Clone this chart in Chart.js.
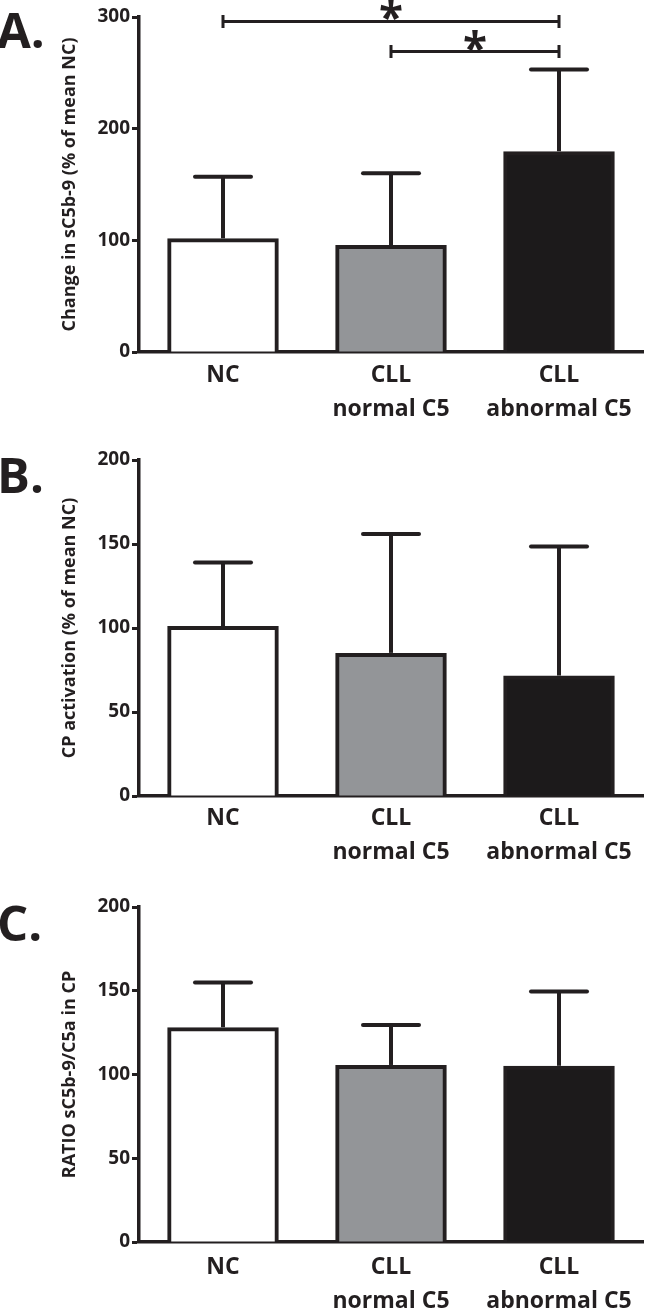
<!DOCTYPE html>
<html><head><meta charset="utf-8">
<script src="https://cdn.jsdelivr.net/npm/chart.js@4.4.1/dist/chart.umd.min.js"></script>
<style>
html,body{margin:0;padding:0;background:#fff;}
body{width:665px;height:1310px;position:relative;overflow:hidden;}
canvas{position:absolute;left:0;display:block;}
</style></head><body>
<canvas id="cA" width="665" height="440" style="top:0px"></canvas>
<canvas id="cB" width="665" height="440" style="top:440px"></canvas>
<canvas id="cC" width="665" height="430" style="top:880px"></canvas>
<script>
// ---- data ----
const categories = [['NC'], ['CLL', 'normal C5'], ['CLL', 'abnormal C5']];
const sc5b9Mean = [100, 94, 178];
const sc5b9SD = [57, 66, 75];
const cpMean = [100, 84, 70.5];
const cpSD = [39, 72, 78];
const ratioMean = [127, 104.5, 104];
const ratioSD = [28, 25, 45.5];
const sc5b9Ticks = [0, 100, 200, 300];
const percentTicks = [0, 50, 100, 150, 200];
// significance: [from category index, to category index, bracket height in axis units]
const sc5b9Sig = [[0, 2, 296], [1, 2, 269]];

const INK = '#231f20';
const FONT = 'Open Sans';
const barFills = ['#ffffff', '#939598', '#1c1a1b'];

const errorBarPlugin = {
  id: 'errbars',
  afterDatasetsDraw(chart, args, opts) {
    const ctx = chart.ctx, ys = chart.scales.y, meta = chart.getDatasetMeta(0);
    ctx.save();
    ctx.strokeStyle = INK; ctx.lineWidth = 4; ctx.lineCap = 'butt';
    meta.data.forEach((bar, i) => {
      const m = chart.data.datasets[0].data[i];
      const top = ys.getPixelForValue(m + opts.sd[i]);
      ctx.beginPath();
      ctx.moveTo(bar.x, bar.y - 2); ctx.lineTo(bar.x, top);
      ctx.stroke();
      ctx.lineCap = 'round';
      ctx.beginPath();
      ctx.moveTo(bar.x - 28, top); ctx.lineTo(bar.x + 28, top);
      ctx.stroke();
      ctx.lineCap = 'butt';
    });
    ctx.restore();
  }
};
const sigPlugin = {
  id: 'sig',
  afterDraw(chart, args, opts) {
    if (!opts.pairs) return;
    const ctx = chart.ctx, xs = chart.scales.x, ys = chart.scales.y;
    ctx.save();
    ctx.strokeStyle = INK; ctx.fillStyle = INK; ctx.lineWidth = 3;
    opts.pairs.forEach(p => {
      const x1 = xs.getPixelForValue(p[0]), x2 = xs.getPixelForValue(p[1]), y = ys.getPixelForValue(p[2]);
      ctx.beginPath();
      ctx.moveTo(x1, y); ctx.lineTo(x2, y);
      ctx.moveTo(x1, y - 6.5); ctx.lineTo(x1, y + 6.5);
      ctx.moveTo(x2, y - 6.5); ctx.lineTo(x2, y + 6.5);
      ctx.stroke();
      ctx.font = 'bold 44px "' + FONT + '"';
      ctx.textAlign = 'center'; ctx.textBaseline = 'alphabetic';
      ctx.fillText('*', (x1 + x2) / 2, y + 12);
    });
    ctx.restore();
  }
};
const panelLabelPlugin = {
  id: 'plabel',
  afterDraw(chart, args, opts) {
    const ctx = chart.ctx;
    ctx.save();
    ctx.fillStyle = INK; ctx.font = 'bold 49px "' + FONT + '"';
    ctx.textAlign = 'left'; ctx.textBaseline = 'alphabetic';
    ctx.fillText(opts.text, -3, opts.y);
    ctx.restore();
  }
};

function makeChart(id, cfg) {
  return new Chart(document.getElementById(id), {
    type: 'bar',
    data: {
      labels: categories,
      datasets: [{
        data: cfg.mean,
        backgroundColor: barFills,
        borderColor: INK,
        borderWidth: 4,
        inflateAmount: 2,
        barPercentage: 0.64,
        categoryPercentage: 1
      }]
    },
    options: {
      responsive: false,
      animation: false,
      devicePixelRatio: 1,
      layout: { padding: { left: 0, right: 22, top: cfg.top, bottom: 0 } },
      plugins: {
        legend: { display: false },
        tooltip: { enabled: false },
        errbars: { sd: cfg.sd },
        sig: { pairs: cfg.sig },
        plabel: { text: cfg.label, y: cfg.labelY }
      },
      scales: {
        x: {
          z: 1,
          offset: true,
          grid: { display: false, drawTicks: false },
          border: { display: true, width: 3.5, color: INK },
          ticks: {
            color: INK, padding: cfg.xpad, maxRotation: 0, autoSkip: false,
            font: { family: FONT, size: 23, weight: 'bold', lineHeight: '34px' }
          },
          afterFit(s) { s.height = cfg.bottomH; }
        },
        y: {
          z: 1,
          min: 0, max: cfg.ticks[cfg.ticks.length - 1],
          afterBuildTicks(s) { s.ticks = cfg.ticks.map(v => ({ value: v })); },
          grid: { display: true, drawOnChartArea: false, drawTicks: true, tickLength: 7, tickWidth: 3, tickColor: INK },
          border: { display: true, width: 3.5, color: INK },
          ticks: { color: INK, padding: 2, font: { family: FONT, size: 19, weight: 'bold' } },
          title: {
            display: true, text: cfg.title, color: INK,
            font: { family: FONT, size: 18, weight: 'bold' },
            padding: { top: 59, bottom: 0 }
          },
          afterFit(s) { s.width = 139; }
        }
      }
    },
    plugins: [errorBarPlugin, sigPlugin, panelLabelPlugin]
  });
}

makeChart('cA', { mean: sc5b9Mean, sd: sc5b9SD, ticks: sc5b9Ticks, sig: sc5b9Sig,
  title: 'Change in sC5b-9 (% of mean NC)', label: 'A.', labelY: 48,
  top: 17, bottomH: 440 - 352, xpad: 6 });
makeChart('cB', { mean: cpMean, sd: cpSD, ticks: percentTicks, sig: null,
  title: 'CP activation (% of mean NC)', label: 'B.', labelY: 53,
  top: 20, bottomH: 440 - 356, xpad: 5 });
makeChart('cC', { mean: ratioMean, sd: ratioSD, ticks: percentTicks, sig: null,
  title: 'RATIO sC5b-9/C5a in CP', label: 'C.', labelY: 61,
  top: 27, bottomH: 430 - 362, xpad: 8 });
</script>
</body></html>
